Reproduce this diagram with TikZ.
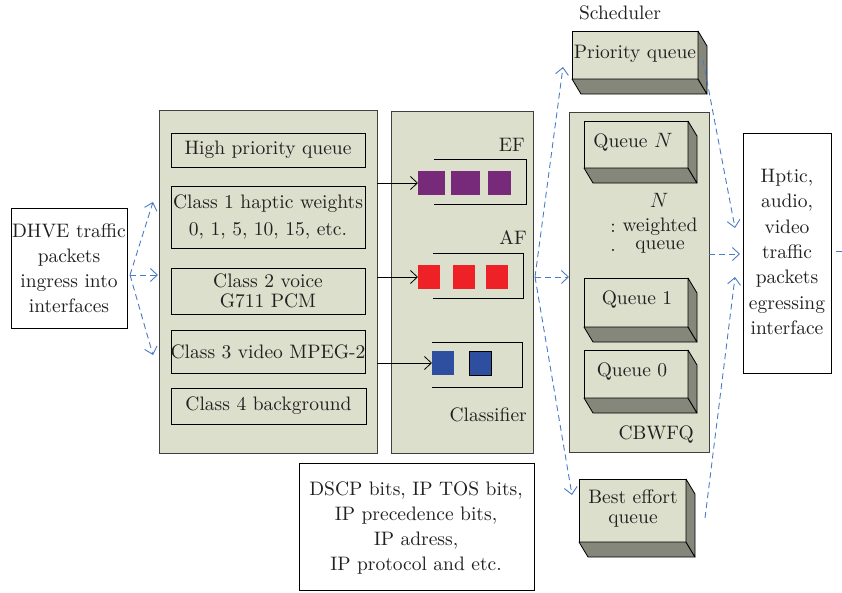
\documentclass[tikz,border=0pt]{standalone}
\usepackage{fontspec}
\setmainfont{lmroman10}[Extension=.otf,UprightFont=*-regular,ItalicFont=*-italic,BoldFont=*-bold]
\usetikzlibrary{arrows.meta,calc}
\definecolor{panelfill}{HTML}{DCDFCC}
\definecolor{shadeface}{HTML}{85877B}
\definecolor{flowblue}{HTML}{4A7CC4}
\definecolor{efpurple}{HTML}{772A7A}
\definecolor{afred}{HTML}{EE2226}
\definecolor{bepblue}{HTML}{2E4F9F}
\definecolor{inktext}{HTML}{231F20}

% bottom and right faces of a raised queue block
\newcommand\depthfaces[1]{%
  \filldraw[fill=shadeface,draw=black,line width=0.8pt,line join=round]
    (#1.south west) -- (#1.south east) -- ($(#1.south east)+(9,15)$)
    -- ($(#1.south west)+(9,15)$) -- cycle;
  \filldraw[fill=shadeface,draw=black,line width=0.8pt,line join=round]
    (#1.north east) -- ($(#1.north east)+(9,15)$)
    -- ($(#1.south east)+(9,15)$) -- (#1.south east) -- cycle;}

\begin{document}
\begin{tikzpicture}[x=1pt,y=-1pt,
  font=\fontsize{19.5}{25}\selectfont,
  panel/.style={draw=black!75,line width=0.8pt,fill=panelfill,inner sep=0pt,outer sep=0pt,anchor=north west},
  qbox/.style={draw=black,line width=0.8pt,fill=panelfill,inner sep=0pt,outer sep=0pt,anchor=north west,align=center},
  wbox/.style={draw=black,line width=0.8pt,fill=white,inner sep=0pt,outer sep=0pt,anchor=north west,align=center},
  label/.style={inner sep=0pt,align=center,text=inktext},
  pkt/.style={inner sep=0pt,outer sep=0pt,anchor=north west},
  feed/.style={line width=0.8pt,-{Straight Barb[length=7pt,width=13pt]}},
  bracket/.style={line width=0.8pt},
  flow/.style={flowblue,line width=0.9pt,dash pattern=on 6pt off 4pt,-{Straight Barb[length=7pt,width=13pt]}},
  flowplain/.style={flowblue,line width=0.9pt,dash pattern=on 6pt off 4pt}]
\useasboundingbox (0,0) rectangle (842,592);

% ---------- ingress ----------
\node[wbox,minimum width=116pt,minimum height=120pt] (dhve) at (11,208) {};
\node[label] at (dhve.center) {DHVE traffic\\packets\\ingress into\\interfaces};

% ---------- traffic classes ----------
\node[panel,minimum width=218pt,minimum height=343pt] (cls) at (159,110) {};
\node[qbox,minimum width=194pt,minimum height=34pt] (hpq) at (171,133) {};
\node[label] at (hpq.center) {High priority queue};
\node[qbox,minimum width=194pt,minimum height=62pt] (c1) at (171,186) {};
\node[label,font=\fontsize{19.5}{27}\selectfont] at (c1.center) {Class 1 haptic weights\\0, 1, 5, 10, 15, etc.};
\node[qbox,minimum width=194pt,minimum height=46pt] (c2) at (171,268) {};
\node[label,font=\fontsize{19.5}{20}\selectfont] at (c2.center) {Class 2 voice\\G711 PCM};
\node[qbox,minimum width=194pt,minimum height=43pt] (c3) at (171,330) {};
\node[label] at (c3.center) {Class 3 video MPEG-2};
\node[qbox,minimum width=195pt,minimum height=36pt] (c4) at (171,388) {};
\node[label] at (c4.center) {Class 4 background};

% ---------- classifier ----------
\node[panel,minimum width=142pt,minimum height=342pt] (clf) at (391,111) {};
\node[label,anchor=east] at (525,145) {EF};
\node[label,anchor=east] at (527,238) {AF};
\node[label,anchor=east] at (527,415) {Classifier};

\draw[bracket] (434,159) -- (526,159) -- (526,204) -- (434,204);
\draw[bracket] (433,253) -- (523,253) -- (523,298) -- (433,298);
\draw[bracket] (432,342) -- (522,342) -- (522,387) -- (432,387);

\node[pkt,minimum width=27pt,minimum height=24pt] (ef1) at (418,171) {};
\fill[efpurple] (418,171) rectangle (445,195);
\fill[efpurple] (451,171) rectangle (480,195);
\fill[efpurple] (488,171) rectangle (511,195);
\node[pkt,minimum width=22pt,minimum height=24pt] (af1) at (418,265) {};
\fill[afred] (418,265) rectangle (440,289);
\fill[afred] (453,265) rectangle (475,289);
\fill[afred] (486,265) rectangle (508,289);
\node[pkt,minimum width=22pt,minimum height=24pt] (be1) at (432,351) {};
\fill[bepblue] (432,351) rectangle (454,375);
\filldraw[fill=bepblue,draw=black,line width=0.8pt] (469,351) rectangle (491,375);

\draw[feed] (cls.east |- ef1.west) -- (ef1.west);
\draw[feed] (cls.east |- af1.west) -- (af1.west);
\draw[feed] (cls.east |- be1.west) -- (be1.west);

% ---------- scheduler ----------
\node[label] at (620,13) {Scheduler};

\node[qbox,minimum width=126pt,minimum height=48pt] (pq) at (572,31) {};
\depthfaces{pq}
\node[label] at ($(pq.center)+(0,-1)$) {Priority queue};

\node[panel,minimum width=140pt,minimum height=340pt] (cbw) at (569,112) {};
\node[qbox,minimum width=104pt,minimum height=47pt] (qn) at (584,121) {};
\depthfaces{qn}
\node[label] at (633,142) {Queue $N$};
\node[label] at (659,200) {$N$};
\node[label] at (613,228) {:};
\node[label] at (613,250) {.};
\node[label] at (660,227) {weighted};
\node[label] at (660,247) {queue};
\node[qbox,minimum width=104pt,minimum height=49pt] (q1) at (584,278) {};
\depthfaces{q1}
\node[label] at (637,300) {Queue 1};
\node[qbox,minimum width=104pt,minimum height=48pt] (q0) at (584,350) {};
\depthfaces{q0}
\node[label] at (632,372) {Queue 0};
\node[label,anchor=east] at (694,435) {CBWFQ};

\node[qbox,minimum width=107pt,minimum height=63pt] (beq) at (579,479) {};
\depthfaces{beq}
\node[label,font=\fontsize{19.5}{20}\selectfont] at (633,509) {Best effort\\queue};

% ---------- egress ----------
\node[wbox,minimum width=88pt,minimum height=240pt] (out) at (743,133) {};
\node[label,font=\fontsize{19.5}{25.3}\selectfont] at (787,252) {Hptic,\\audio,\\video\\traffic\\packets\\egressing\\interface};

% ---------- classification fields ----------
\node[wbox,minimum width=235pt,minimum height=127pt] (dscp) at (299,463) {};
\node[label,font=\fontsize{19.5}{25.3}\selectfont] at (416,528) {DSCP bits, IP TOS bits,\\IP precedence bits,\\IP adress,\\IP protocol and etc.};

% ---------- flows ----------
\coordinate (inFan) at (130,275);
\coordinate (inUp) at (153,202);
\coordinate (inMid) at (158,275);
\coordinate (inDown) at (153,355);
\draw[flow] (inFan) -- (inUp);
\draw[flow] (inFan) -- (inMid);
\draw[flow] (inFan) -- (inDown);

\coordinate (schFan) at (535,277);
\coordinate (toPq) at (563,67);
\coordinate (toBe) at (572,495);
\draw[flow] (schFan) -- (toPq);
\draw[flow] (schFan) -- (cbw.west |- schFan);
\draw[flow] (schFan) -- (toBe);

\coordinate (pqOut) at (703,60);
\coordinate (pqIn) at (735,228);
\coordinate (cbOut) at (709,254);
\coordinate (beOut) at (705,518);
\coordinate (beIn) at (735,277);
\draw[flow] (pqOut) -- (pqIn);
\draw[flow] (cbOut) -- ($(out.west |- cbOut)+(-3,0)$);
\draw[flow] (beOut) -- (beIn);
\coordinate (exitEnd) at (842,251);
\draw[flowplain] (out.east |- exitEnd) ++(5,0) -- (exitEnd);
\end{tikzpicture}
\end{document}
